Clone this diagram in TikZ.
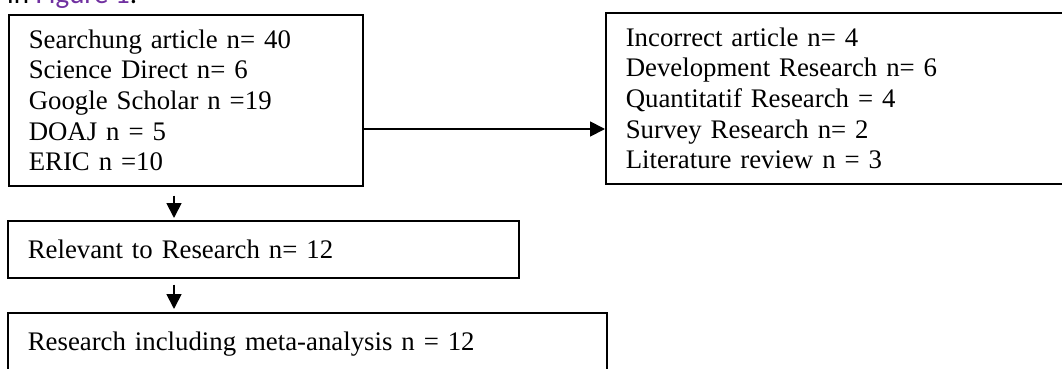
\documentclass[tikz,border=0pt]{standalone}
\usepackage{fontspec}
\setmainfont{Liberation Serif}
\newfontfamily\capfont{Carlito}
\usetikzlibrary{arrows.meta,calc}
\definecolor{figpurple}{HTML}{7030A0}
\begin{document}
\begin{tikzpicture}[x=1pt,y=-1pt,
  box/.style={draw=black,line width=1.6pt,anchor=north west,align=left,
    inner xsep=20pt,inner ysep=0pt,
    font=\fontsize{26.8}{30.7}\selectfont},
  arr/.style={line width=1.8pt,-{Triangle[length=15pt,width=15pt]}}]
\useasboundingbox (0,0) rectangle (1062,369);
\clip (0,0) rectangle (1062,369);
\node[anchor=base west,inner sep=0pt,font=\capfont\fontsize{29}{30}\selectfont] (cap) at (7,4)
  {in \textcolor{figpurple}{Figure 1}.};
\node[box,minimum width=354pt,minimum height=171pt,text width=314pt] (b1) at (8,14)
  {Searchung article n= 40\\Science Direct n= 6\\Google Scholar n =19\\DOAJ n = 5\\ERIC n =10};
\node[box,minimum width=470pt,minimum height=171pt,text width=430pt] (b2) at (605,12)
  {Incorrect article n= 4\\Development Research n= 6\\Quantitatif Research = 4\\Survey Research n= 2\\Literature review n = 3};
\node[box,minimum width=511pt,minimum height=57pt,text width=471pt] (b3) at (7,220)
  {Relevant to Research n= 12};
\node[box,minimum width=599pt,minimum height=62pt,text width=559pt] (b4) at (7,312)
  {Research including meta-analysis n = 12};
\coordinate (row) at (0,129);
\coordinate (col) at (174,0);
\draw[arr] (b1.east |- row) -- (b2.west |- row);
\draw[arr,shorten <=9pt,shorten >=2pt] (b1.south -| col) -- (b3.north -| col);
\draw[arr,shorten <=6pt,shorten >=3pt] (b3.south -| col) -- (b4.north -| col);
\end{tikzpicture}
\end{document}
